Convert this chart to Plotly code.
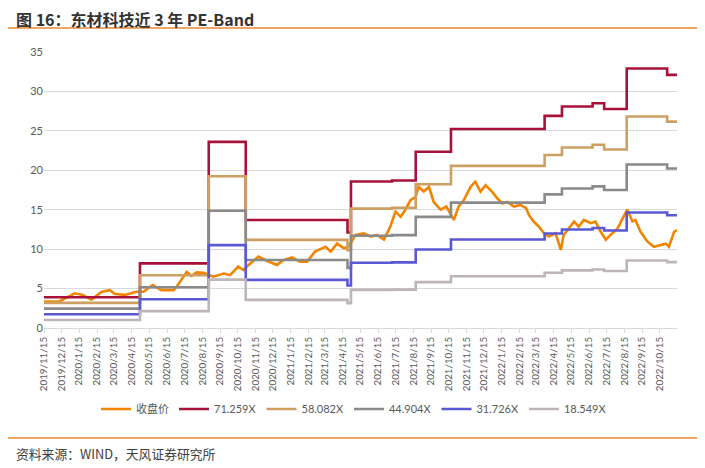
import plotly.graph_objects as go

# ---------------- data ----------------
band_names = ["71.259X", "58.082X", "44.904X", "31.726X", "18.549X"]

# step start dates of the PE bands (last entry = end of chart)
band_dates = ["2019-11-15", "2020-04-29", "2020-08-26", "2020-10-29", "2021-04-23",
              "2021-04-29", "2021-07-09", "2021-08-19", "2021-10-19", "2022-03-30",
              "2022-04-29", "2022-06-21", "2022-07-11", "2022-08-19", "2022-10-28",
              "2022-11-14"]

band_7126 = [3.90, 8.20, 23.60, 13.70, 12.11, 18.57, 18.70, 22.35, 25.23, 26.90,
             28.08, 28.50, 27.77, 32.90, 32.10]
band_5808 = [3.18, 6.69, 19.24, 11.17, 9.87, 15.14, 15.24, 18.22, 20.56, 21.93,
             22.88, 23.23, 22.63, 26.82, 26.17]
band_4490 = [2.46, 5.17, 14.87, 8.63, 7.63, 11.70, 11.78, 14.09, 15.90, 16.95,
             17.69, 17.96, 17.50, 20.73, 20.23]
band_3173 = [1.74, 3.65, 10.51, 6.10, 5.39, 8.27, 8.32, 9.95, 11.23, 11.98,
             12.50, 12.69, 12.36, 14.65, 14.29]
band_1855 = [1.01, 2.14, 6.14, 3.57, 3.15, 4.83, 4.87, 5.82, 6.57, 7.00,
             7.31, 7.42, 7.23, 8.56, 8.36]

price_dates = ["2019-11-15", "2019-12-12", "2020-01-07", "2020-01-21", "2020-02-05",
               "2020-02-23", "2020-03-08", "2020-03-17", "2020-04-03", "2020-04-23",
               "2020-05-05", "2020-05-21", "2020-06-05", "2020-06-26", "2020-07-01",
               "2020-07-13", "2020-07-19", "2020-07-27", "2020-08-05", "2020-08-17",
               "2020-09-03", "2020-09-21", "2020-10-02", "2020-10-16", "2020-10-25",
               "2020-11-03", "2020-11-20", "2020-12-05", "2020-12-22", "2021-01-02",
               "2021-01-17", "2021-01-31", "2021-02-12", "2021-02-26", "2021-03-16",
               "2021-03-25", "2021-04-05", "2021-04-17", "2021-04-25", "2021-05-07",
               "2021-05-21", "2021-06-02", "2021-06-13", "2021-06-25", "2021-07-06",
               "2021-07-15", "2021-07-24", "2021-08-01", "2021-08-10", "2021-08-19",
               "2021-08-24", "2021-09-02", "2021-09-11", "2021-09-19", "2021-10-01",
               "2021-10-11", "2021-10-24", "2021-11-01", "2021-11-10", "2021-11-22",
               "2021-11-30", "2021-12-09", "2021-12-18", "2021-12-29", "2022-01-07",
               "2022-01-16", "2022-01-24", "2022-02-05", "2022-02-16", "2022-02-26",
               "2022-03-03", "2022-03-11", "2022-03-20", "2022-03-29", "2022-04-06",
               "2022-04-18", "2022-04-27", "2022-05-02", "2022-05-11", "2022-05-20",
               "2022-05-28", "2022-06-06", "2022-06-18", "2022-06-26", "2022-07-05",
               "2022-07-14", "2022-07-22", "2022-08-03", "2022-08-12", "2022-08-20",
               "2022-08-29", "2022-09-03", "2022-09-12", "2022-09-24", "2022-10-05",
               "2022-10-17", "2022-10-26", "2022-10-31", "2022-11-09", "2022-11-14"]
price_vals = [3.35, 3.40, 4.40, 4.20, 3.60, 4.60, 4.80, 4.30, 4.20, 4.60,
              4.60, 5.45, 4.80, 4.80, 5.20, 6.50, 7.10, 6.60, 7.06, 7.00,
              6.50, 6.90, 6.70, 7.80, 7.35, 8.00, 9.05, 8.50, 8.00, 8.60,
              8.95, 8.40, 8.40, 9.70, 10.30, 9.70, 10.70, 10.10, 10.30, 11.80,
              12.00, 11.60, 11.80, 11.20, 12.85, 14.75, 14.10, 15.00, 16.20, 16.65,
              17.90, 17.30, 17.90, 16.00, 15.00, 15.40, 13.70, 15.40, 16.20, 17.90,
              18.55, 17.30, 18.10, 17.30, 16.45, 15.80, 16.00, 15.40, 15.60, 15.20,
              14.30, 13.50, 12.85, 12.00, 11.60, 12.00, 9.90, 11.80, 12.60, 13.50,
              12.85, 13.70, 13.30, 13.50, 12.20, 11.20, 11.80, 12.60, 13.90, 15.00,
              13.50, 13.70, 12.20, 10.95, 10.30, 10.50, 10.70, 10.30, 12.20, 12.40]

# ---------------- figure ----------------
FONT = "Lato, 'Noto Sans CJK SC', sans-serif"
CJK = "'Noto Sans CJK SC', sans-serif"

fig = go.Figure()
fig.add_trace(go.Scatter(x=price_dates, y=price_vals, mode="lines", name="收盘价",
                         line=dict(color="#F28500", width=2.6)))

band_series = [band_7126, band_5808, band_4490, band_3173, band_1855]
band_colors = ["#A8123A", "#CDA062", "#8A8A8A", "#5B58D6", "#BDB5B8"]
for name, vals, col in zip(band_names, band_series, band_colors):
    fig.add_trace(go.Scatter(x=band_dates, y=vals + [vals[-1]], mode="lines", name=name,
                             line=dict(color=col, width=2.6, shape="hv")))

OFF = 8  # page body offset
L, R, T, B = 44, 677, 52, 328   # plot box in window pixels
W, H = 705 - OFF, 468 - OFF
pw, ph = R - L, B - T

def px_x(px):
    return (px - L) / pw

def px_y(py):
    return (B - py) / ph

fig.update_layout(
    width=W, height=H,
    margin=dict(l=L - OFF, r=705 - R, t=T - OFF, b=468 - B, pad=0),
    paper_bgcolor="white", plot_bgcolor="white",
    font=dict(family=FONT, color="#595959", size=11),
    showlegend=True,
    legend=dict(orientation="h", x=px_x(354), xanchor="center", y=px_y(409), yanchor="middle",
                font=dict(family=FONT, size=11, color="#595959"),
                itemwidth=30, tracegroupgap=0, bgcolor="rgba(0,0,0,0)"),
    xaxis=dict(type="date", range=["2019-11-15", "2022-11-14"],
               tick0="2019-11-15", dtick="M1", tickformat="%Y/%-m/%-d",
               tickangle=-90, tickfont=dict(family=FONT, size=9.8, color="#595959"),
               showgrid=False, showline=True, linecolor="#D9D9D9", linewidth=1,
               ticks="outside", ticklen=4, tickcolor="#D9D9D9", zeroline=False,
               automargin=False),
    yaxis=dict(range=[0, 35], dtick=5, tick0=0, showgrid=True, gridcolor="#D9D9D9",
               gridwidth=1, zeroline=False, showline=False, automargin=False,
               tickfont=dict(family=FONT, size=11, color="#595959"), ticks=""),
)

# title, separators and source
fig.add_annotation(x=px_x(14), y=px_y(18.5), xref="paper", yref="paper", xanchor="left",
                   yanchor="middle", showarrow=False,
                   text="<b>图 16：东材科技近 3 年 PE-Band</b>",
                   font=dict(family=CJK, size=16, color="#333333"))
fig.add_shape(type="line", xref="paper", yref="paper", x0=px_x(4), x1=px_x(701),
              y0=px_y(28), y1=px_y(28), line=dict(color="#E8892E", width=1.3))
fig.add_shape(type="line", xref="paper", yref="paper", x0=px_x(4), x1=px_x(701),
              y0=px_y(438), y1=px_y(438), line=dict(color="#E8892E", width=1.3))
fig.add_annotation(x=px_x(14), y=px_y(453), xref="paper", yref="paper", xanchor="left",
                   yanchor="middle", showarrow=False,
                   text="资料来源：WIND，天风证券研究所",
                   font=dict(family=CJK, size=12.8, color="#404040"))

fig.write_html("out.html")
